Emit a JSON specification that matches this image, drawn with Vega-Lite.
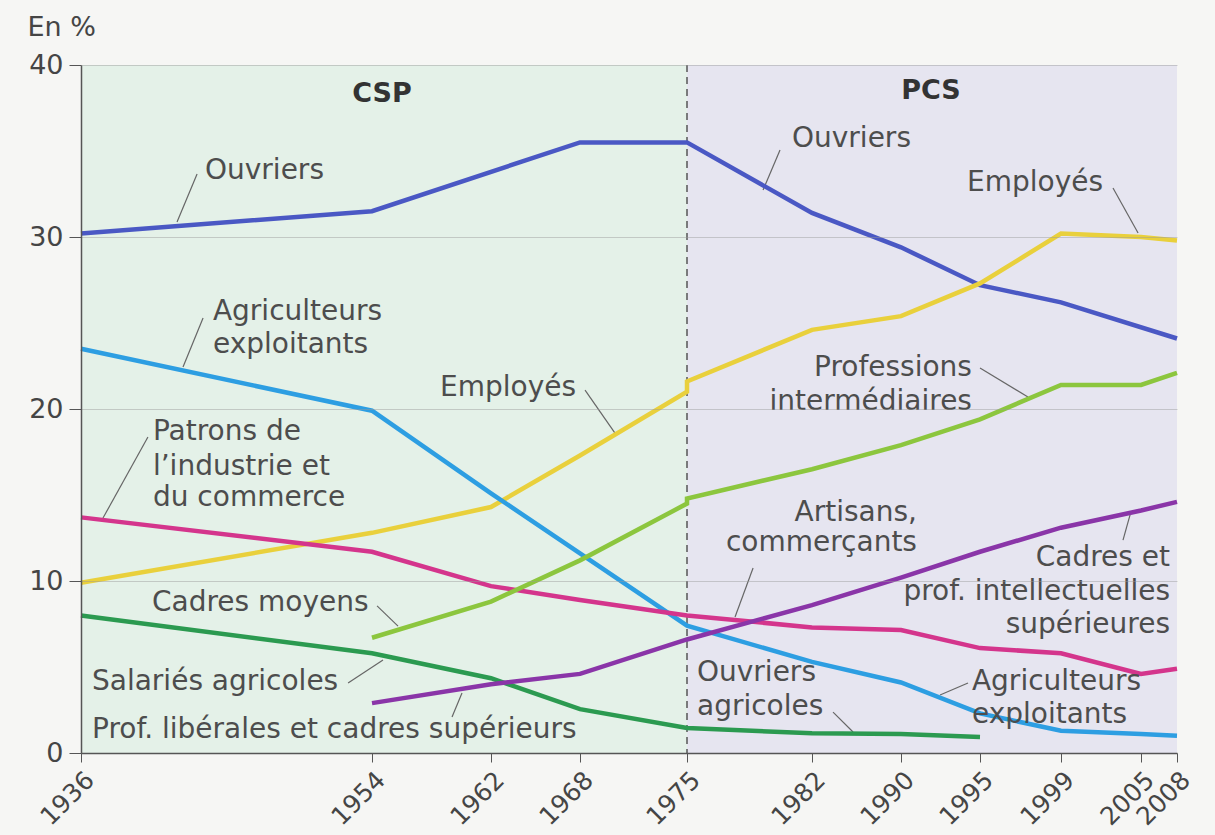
{
  "$schema": "https://vega.github.io/schema/vega-lite/v6.json",
  "width": 1096,
  "height": 688,
  "autosize": {"type": "none"},
  "padding": {"left": 81, "top": 65, "right": 38, "bottom": 82},
  "background": "#f6f6f4",
  "config": {"font": "DejaVu Sans", "view": {"stroke": null}},
  "datasets": {
    "periods": [
      {"period": "CSP", "year": 1936, "end": 1975},
      {"period": "PCS", "year": 1975, "end": 2008}
    ],
    "heads": [
      {"t": "CSP", "year": 1954.67, "value": 38.3},
      {"t": "PCS", "year": 1991.9, "value": 38.5}
    ],
    "series": [
      {"s": "ouv", "year": 1936, "value": 30.2},
      {"s": "ouv", "year": 1954, "value": 31.5},
      {"s": "ouv", "year": 1968, "value": 35.5},
      {"s": "ouv", "year": 1975, "value": 35.5},
      {"s": "ouv", "year": 1982, "value": 31.4},
      {"s": "ouv", "year": 1990, "value": 29.4},
      {"s": "ouv", "year": 1995, "value": 27.2},
      {"s": "ouv", "year": 1999, "value": 26.2},
      {"s": "ouv", "year": 2008, "value": 24.1},
      {"s": "emp", "year": 1936, "value": 9.9},
      {"s": "emp", "year": 1954, "value": 12.8},
      {"s": "emp", "year": 1962, "value": 14.3},
      {"s": "emp", "year": 1968, "value": 17.3},
      {"s": "emp", "year": 1975, "value": 21.0},
      {"s": "emp", "year": 1975, "value": 21.6},
      {"s": "emp", "year": 1982, "value": 24.6},
      {"s": "emp", "year": 1990, "value": 25.4},
      {"s": "emp", "year": 1995, "value": 27.3},
      {"s": "emp", "year": 1999, "value": 30.2},
      {"s": "emp", "year": 2005, "value": 30.0},
      {"s": "emp", "year": 2008, "value": 29.8},
      {"s": "agr", "year": 1936, "value": 23.5},
      {"s": "agr", "year": 1954, "value": 19.9},
      {"s": "agr", "year": 1962, "value": 15.1},
      {"s": "agr", "year": 1968, "value": 11.6},
      {"s": "agr", "year": 1975, "value": 7.4},
      {"s": "agr", "year": 1982, "value": 5.3},
      {"s": "agr", "year": 1990, "value": 4.1},
      {"s": "agr", "year": 1995, "value": 2.3},
      {"s": "agr", "year": 1999, "value": 1.3},
      {"s": "agr", "year": 2005, "value": 1.1},
      {"s": "agr", "year": 2008, "value": 1.0},
      {"s": "pat", "year": 1936, "value": 13.7},
      {"s": "pat", "year": 1954, "value": 11.7},
      {"s": "pat", "year": 1962, "value": 9.7},
      {"s": "pat", "year": 1968, "value": 8.9},
      {"s": "pat", "year": 1975, "value": 8.0},
      {"s": "pat", "year": 1982, "value": 7.3},
      {"s": "pat", "year": 1990, "value": 7.15},
      {"s": "pat", "year": 1995, "value": 6.1},
      {"s": "pat", "year": 1999, "value": 5.8},
      {"s": "pat", "year": 2005, "value": 4.6},
      {"s": "pat", "year": 2008, "value": 4.9},
      {"s": "cad", "year": 1954, "value": 6.7},
      {"s": "cad", "year": 1962, "value": 8.8},
      {"s": "cad", "year": 1968, "value": 11.2},
      {"s": "cad", "year": 1975, "value": 14.5},
      {"s": "cad", "year": 1975, "value": 14.8},
      {"s": "cad", "year": 1982, "value": 16.5},
      {"s": "cad", "year": 1990, "value": 17.9},
      {"s": "cad", "year": 1995, "value": 19.4},
      {"s": "cad", "year": 1999, "value": 21.4},
      {"s": "cad", "year": 2005, "value": 21.4},
      {"s": "cad", "year": 2008, "value": 22.1},
      {"s": "sal", "year": 1936, "value": 8.0},
      {"s": "sal", "year": 1954, "value": 5.8},
      {"s": "sal", "year": 1962, "value": 4.35},
      {"s": "sal", "year": 1968, "value": 2.55},
      {"s": "sal", "year": 1975, "value": 1.45},
      {"s": "sal", "year": 1982, "value": 1.15},
      {"s": "sal", "year": 1990, "value": 1.1},
      {"s": "sal", "year": 1995, "value": 0.93},
      {"s": "lib", "year": 1954, "value": 2.9},
      {"s": "lib", "year": 1962, "value": 4.0},
      {"s": "lib", "year": 1968, "value": 4.6},
      {"s": "lib", "year": 1975, "value": 6.6},
      {"s": "lib", "year": 1982, "value": 8.6},
      {"s": "lib", "year": 1990, "value": 10.2},
      {"s": "lib", "year": 1995, "value": 11.7},
      {"s": "lib", "year": 1999, "value": 13.1},
      {"s": "lib", "year": 2005, "value": 14.1},
      {"s": "lib", "year": 2008, "value": 14.6}
    ],
    "labL": [
      {"t": "Ouvriers", "year": 1943.67, "value": 33.84},
      {"t": "Ouvriers", "year": 1980.88, "value": 35.7},
      {"t": "Employés", "year": 1994.18, "value": 33.14},
      {"t": "Agriculteurs", "year": 1944.16, "value": 25.64},
      {"t": "exploitants", "year": 1944.16, "value": 23.72},
      {"t": "Patrons de", "year": 1940.45, "value": 18.66},
      {"t": "l’industrie et", "year": 1940.45, "value": 16.63},
      {"t": "du commerce", "year": 1940.45, "value": 14.83},
      {"t": "Employés", "year": 1958.57, "value": 21.22},
      {"t": "Cadres moyens", "year": 1940.39, "value": 8.72},
      {"t": "Salariés agricoles", "year": 1936.68, "value": 4.13},
      {"t": "Prof. libérales et cadres supérieurs", "year": 1936.68, "value": 1.34},
      {"t": "Ouvriers", "year": 1975.56, "value": 4.65},
      {"t": "agricoles", "year": 1975.56, "value": 2.67},
      {"t": "Agriculteurs", "year": 1994.49, "value": 4.13},
      {"t": "exploitants", "year": 1994.49, "value": 2.21}
    ],
    "labR": [
      {"t": "Professions", "year": 1994.49, "value": 22.38},
      {"t": "intermédiaires", "year": 1994.49, "value": 20.41},
      {"t": "Artisans,", "year": 1991.01, "value": 13.95},
      {"t": "commerçants", "year": 1991.01, "value": 12.21},
      {"t": "Cadres et", "year": 2007.42, "value": 11.34},
      {"t": "prof. intellectuelles", "year": 2007.42, "value": 9.36},
      {"t": "supérieures", "year": 2007.42, "value": 7.44}
    ],
    "leaders": [
      {"id": 1, "year": 1941.94, "value": 30.87}, {"id": 1, "year": 1943.18, "value": 33.66},
      {"id": 2, "year": 1979.26, "value": 32.73}, {"id": 2, "year": 1980.21, "value": 35.06},
      {"id": 3, "year": 2002.9, "value": 32.85}, {"id": 3, "year": 2004.78, "value": 30.23},
      {"id": 4, "year": 1942.31, "value": 22.44}, {"id": 4, "year": 1943.55, "value": 25.29},
      {"id": 5, "year": 1937.36, "value": 13.66}, {"id": 5, "year": 1940.14, "value": 18.37},
      {"id": 6, "year": 1968.33, "value": 21.1}, {"id": 6, "year": 1970.29, "value": 18.6},
      {"id": 7, "year": 1995.0, "value": 22.38}, {"id": 7, "year": 1997.37, "value": 20.7},
      {"id": 8, "year": 1977.69, "value": 7.91}, {"id": 8, "year": 1978.7, "value": 10.76},
      {"id": 9, "year": 2003.65, "value": 12.38}, {"id": 9, "year": 2004.18, "value": 13.84},
      {"id": 10, "year": 1954.34, "value": 8.55}, {"id": 10, "year": 1955.75, "value": 7.38},
      {"id": 11, "year": 1952.52, "value": 4.07}, {"id": 11, "year": 1954.74, "value": 5.41},
      {"id": 12, "year": 1959.38, "value": 2.09}, {"id": 12, "year": 1960.05, "value": 3.49},
      {"id": 13, "year": 1983.89, "value": 2.38}, {"id": 13, "year": 1985.69, "value": 1.22},
      {"id": 14, "year": 1992.47, "value": 3.37}, {"id": 14, "year": 1994.24, "value": 4.07}
    ]
  },
  "encoding": {
    "x": {
      "field": "year",
      "type": "quantitative",
      "scale": {
        "domain": [1936, 1954, 1962, 1968, 1975, 1982, 1990, 1995, 1999, 2005, 2008],
        "range": [0, 291, 410, 499, 606, 731, 820, 899, 980, 1060, 1096],
        "nice": false,
        "zero": false
      },
      "axis": {
        "title": null,
        "values": [1936, 1954, 1962, 1968, 1975, 1982, 1990, 1995, 1999, 2005, 2008],
        "format": "d",
        "labelAngle": -45,
        "labelAlign": "right",
        "labelBaseline": "top",
        "labelFontSize": 25,
        "labelColor": "#454545",
        "labelPadding": 5,
        "labelDx": 4,
        "labelOverlap": false,
        "labelFlush": false,
        "labelBound": false,
        "tickSize": 9,
        "tickColor": "#555555",
        "domainColor": "#555555",
        "domainWidth": 1.5,
        "grid": false,
        "zindex": 1
      }
    }
  },
  "layer": [
    {
      "data": {"name": "periods"},
      "mark": {"type": "rect"},
      "encoding": {
        "x2": {"field": "end"},
        "fill": {
          "field": "period",
          "type": "nominal",
          "scale": {"domain": ["CSP", "PCS"], "range": ["#e4f1e8", "#e6e5f0"]},
          "legend": null
        }
      }
    },
    {
      "data": {"name": "periods"},
      "transform": [{"filter": "datum.period === 'PCS'"}],
      "mark": {"type": "rule", "color": "#555555", "strokeWidth": 1.5, "strokeDash": [7, 5]},
      "encoding": {}
    },
    {
      "data": {"name": "leaders"},
      "mark": {"type": "line", "color": "#666666", "strokeWidth": 1.2},
      "encoding": {
        "y": {"field": "value", "type": "quantitative", "scale": {"domain": [0, 40], "nice": false}},
        "detail": {"field": "id", "type": "nominal"}
      }
    },
    {
      "data": {"name": "series"},
      "mark": {"type": "line", "strokeWidth": 4.5},
      "encoding": {
        "y": {
          "field": "value",
          "type": "quantitative",
          "scale": {"domain": [0, 40], "nice": false},
          "axis": {
            "title": "En %",
            "titleAngle": 0,
            "titleX": -54,
            "titleY": -38,
            "titleAlign": "left",
            "titleBaseline": "middle",
            "titleFontSize": 27,
            "titleFontWeight": "normal",
            "titleColor": "#454545",
            "values": [0, 10, 20, 30, 40],
            "labelFontSize": 27,
            "labelColor": "#454545",
            "labelPadding": 6,
            "tickSize": 12,
            "tickColor": "#555555",
            "domainColor": "#555555",
            "domainWidth": 1.5,
            "grid": true,
            "gridColor": "#9a9a9a",
            "gridOpacity": 0.45,
            "zindex": 1
          }
        },
        "color": {
          "field": "s",
          "type": "nominal",
          "scale": {
            "domain": ["ouv", "emp", "agr", "pat", "cad", "sal", "lib"],
            "range": ["#4a58c4", "#e9d03c", "#2d9ee2", "#d4358c", "#8cc63e", "#2b9a50", "#8a35a8"]
          },
          "legend": null
        }
      }
    },
    {
      "data": {"name": "heads"},
      "mark": {"type": "text", "fontSize": 27, "fontWeight": "bold", "color": "#333333", "align": "center", "baseline": "middle"},
      "encoding": {
        "y": {"field": "value", "type": "quantitative", "scale": {"domain": [0, 40], "nice": false}},
        "text": {"field": "t"}
      }
    },
    {
      "data": {"name": "labL"},
      "mark": {"type": "text", "fontSize": 28, "color": "#4d4d4d", "align": "left", "baseline": "middle"},
      "encoding": {
        "y": {"field": "value", "type": "quantitative", "scale": {"domain": [0, 40], "nice": false}},
        "text": {"field": "t"}
      }
    },
    {
      "data": {"name": "labR"},
      "mark": {"type": "text", "fontSize": 28, "color": "#4d4d4d", "align": "right", "baseline": "middle"},
      "encoding": {
        "y": {"field": "value", "type": "quantitative", "scale": {"domain": [0, 40], "nice": false}},
        "text": {"field": "t"}
      }
    }
  ]
}
